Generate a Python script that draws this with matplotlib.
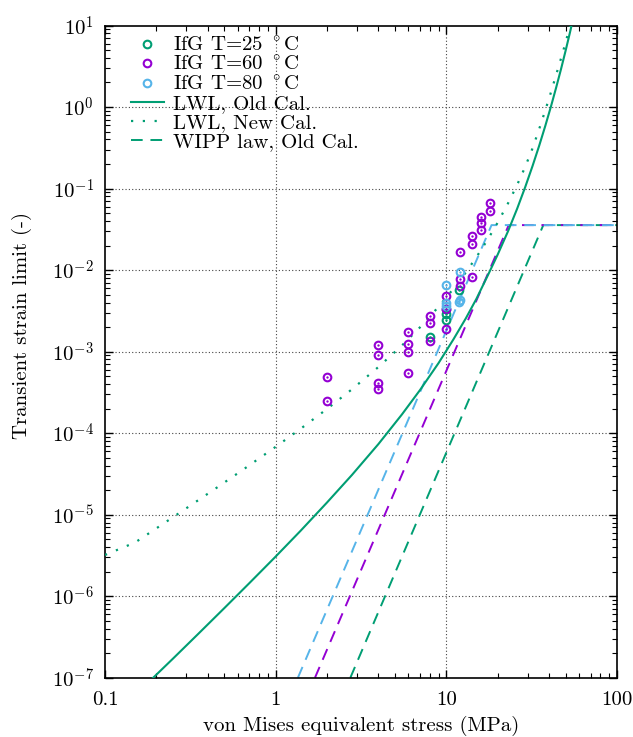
import matplotlib
matplotlib.use("Agg")
import matplotlib.pyplot as plt
from matplotlib.ticker import LogLocator, NullFormatter, FixedLocator, FixedFormatter

plt.rcParams['font.family'] = 'serif'
plt.rcParams['font.serif'] = ['cmr10', 'DejaVu Serif']
plt.rcParams['mathtext.fontset'] = 'cm'
plt.rcParams['axes.formatter.use_mathtext'] = True
plt.rcParams['font.size'] = 15

C_PURPLE = '#9400d3'
C_GREEN = '#009e73'
C_BLUE = '#56b4e9'

# measured data (stress MPa, strain)
ifg25_x = [8.0, 10.0, 10.0, 10.0, 11.8]
ifg25_y = [1.52e-3, 3.3e-3, 2.9e-3, 2.45e-3, 5.7e-3]

ifg60_x = [2.0, 2.0,
           4.0, 4.0, 4.0, 4.0,
           6.0, 6.0, 6.0, 6.0,
           8.0, 8.0, 8.0,
           10.0, 10.0, 10.0,
           12.0, 12.0, 12.0,
           14.1, 14.1, 14.1,
           16.0, 16.0, 16.0,
           18.0, 18.0]
ifg60_y = [4.9e-4, 2.5e-4,
           1.21e-3, 9.1e-4, 4.1e-4, 3.5e-4,
           1.75e-3, 1.25e-3, 9.9e-4, 5.4e-4,
           2.73e-3, 2.22e-3, 1.34e-3,
           4.8e-3, 3.3e-3, 1.88e-3,
           1.65e-2, 7.8e-3, 6.4e-3,
           2.6e-2, 2.07e-2, 8.2e-3,
           4.43e-2, 3.74e-2, 3.1e-2,
           6.58e-2, 5.3e-2]

ifg80_x = [10.0, 10.0, 10.0, 12.0, 11.9, 12.0]
ifg80_y = [6.6e-3, 3.9e-3, 3.6e-3, 9.6e-3, 4.1e-3, 4.3e-3]

# LWL, old calibration
lwl_old_x = [0.18, 0.25, 0.35, 0.5, 0.7, 1.0, 1.4, 2.0, 2.8, 4.0, 5.5, 7.0, 9.0,
             11.0, 13.0, 15.0, 17.5, 20.0, 23.0, 26.0, 29.0, 32.0, 35.0, 38.0,
             41.0, 44.0, 47.0, 50.0, 53.0, 56.0]
lwl_old_y = [8.8e-8, 1.71e-7, 3.41e-7, 7.13e-7, 1.44e-6, 3.06e-6, 6.34e-6, 1.41e-5,
             3.07e-5, 7.34e-5, 1.70e-4, 3.36e-4, 7.22e-4,
             1.41e-3, 2.55e-3, 4.43e-3, 8.6e-3, 1.55e-2, 3.0e-2, 5.66e-2, 0.1045,
             0.189, 0.335, 0.586, 1.01, 1.73, 2.92, 4.91, 8.18, 13.5]

# LWL, new calibration
lwl_new_x = [0.1, 0.15, 0.2, 0.3, 0.45, 0.65, 1.0, 1.4, 2.0, 2.8, 4.0, 5.5, 7.0,
             9.0, 11.0, 13.0, 15.0, 17.5, 20.0, 23.0, 26.0, 29.0, 32.0, 35.0,
             38.0, 41.0, 44.0, 47.0, 50.0, 53.0, 56.0]
lwl_new_y = [3.2e-6, 4.55e-6, 6.79e-6, 1.2e-5, 2.13e-5, 3.61e-5, 6.79e-5, 1.13e-4,
             1.98e-4, 3.45e-4, 6.47e-4, 1.19e-3, 1.98e-3,
             3.54e-3, 5.89e-3, 9.35e-3, 1.44e-2, 2.38e-2, 3.83e-2, 6.6e-2, 0.111,
             0.185, 0.312, 0.537, 0.91, 1.51, 2.48, 3.95, 6.2, 9.8, 15.0]

# WIPP law, old calibration: start, knee, end
wipp_y = [1e-7, 0.0356, 0.0356]
wipp25_x = [2.74, 37.0, 100.0]
wipp60_x = [1.70, 23.2, 100.0]
wipp80_x = [1.35, 18.4, 100.0]

xticks = [0.1, 1, 10, 100]
xlabels = ['0.1', '1', '10', '100']
yticks = [10.0 ** e for e in range(-7, 2)]
ylabels = ['$10^{%d}$' % e for e in range(-7, 2)]

fig = plt.figure(figsize=(6.33, 7.37), dpi=100)
ax = fig.add_axes([0.1659, 0.0805, 0.8088, 0.8849])
ax.set_xscale('log')
ax.set_yscale('log')
ax.set_xlim(0.1, 100)
ax.set_ylim(1e-7, 10)

for g in [1, 10]:
    ax.axvline(g, color='#444444', lw=0.8, ls=(0, (1, 2)), zorder=0)
for g in yticks[1:-1]:
    ax.axhline(g, color='#444444', lw=0.8, ls=(0, (1, 2)), zorder=0)

ms = 5.5
mew = 1.5
pts = []
for xs, ys, c, lab in [(ifg25_x, ifg25_y, C_GREEN, 'IfG T=25 $^\\circ$C'),
                       (ifg60_x, ifg60_y, C_PURPLE, 'IfG T=60 $^\\circ$C'),
                       (ifg80_x, ifg80_y, C_BLUE, 'IfG T=80 $^\\circ$C')]:
    h, = ax.plot(xs, ys, ls='none', marker='o', ms=ms, mfc='none', mec=c, mew=mew,
                 label=lab, zorder=5)
    ax.plot(xs, ys, ls='none', marker='o', ms=1.3, mfc=c, mec=c, mew=0.3, zorder=6)
    pts.append(h)

h_old, = ax.plot(lwl_old_x, lwl_old_y, color=C_GREEN, lw=1.5, label='LWL, Old Cal.', zorder=3)
h_new, = ax.plot(lwl_new_x, lwl_new_y, color=C_GREEN, lw=1.6, ls=(0, (1, 4.3)),
                 label='LWL, New Cal.', zorder=3)
h_w, = ax.plot(wipp25_x, wipp_y, color=C_GREEN, lw=1.4, dashes=(6, 4),
               label='WIPP law, Old Cal.', zorder=2)
ax.plot(wipp60_x, wipp_y, color=C_PURPLE, lw=1.4, dashes=(6, 4), zorder=2)
ax.plot(wipp80_x, wipp_y, color=C_BLUE, lw=1.4, dashes=(6, 4), zorder=2)

ax.xaxis.set_major_locator(FixedLocator(xticks))
ax.xaxis.set_major_formatter(FixedFormatter(xlabels))
ax.yaxis.set_major_locator(FixedLocator(yticks))
ax.yaxis.set_major_formatter(FixedFormatter(ylabels))
ax.xaxis.set_minor_locator(LogLocator(base=10, subs=range(2, 10), numticks=20))
ax.yaxis.set_minor_locator(LogLocator(base=10, subs=range(2, 10), numticks=20))
ax.xaxis.set_minor_formatter(NullFormatter())
ax.yaxis.set_minor_formatter(NullFormatter())
ax.tick_params(which='both', direction='in', top=True, right=True, labelsize=15)
ax.tick_params(which='major', length=6, width=1.0)
ax.tick_params(which='minor', length=3.5, width=0.8)
ax.tick_params(axis='x', pad=10)
ax.tick_params(axis='y', pad=8)
for s in ax.spines.values():
    s.set_linewidth(1.2)

ax.set_xlabel('von Mises equivalent stress (MPa)', fontsize=15)
ax.set_ylabel('Transient strain limit (-)', fontsize=15)
ax.xaxis.set_label_coords(0.5, -0.059)
ax.yaxis.set_label_coords(-0.142, 0.54)

ax.legend(handles=pts + [h_old, h_new, h_w], loc='upper left',
          bbox_to_anchor=(0.035, 0.997), frameon=False, fontsize=15,
          handlelength=1.55, handletextpad=0.45, labelspacing=0.02,
          borderaxespad=0.0)

fig.savefig('out.png', dpi=100)
